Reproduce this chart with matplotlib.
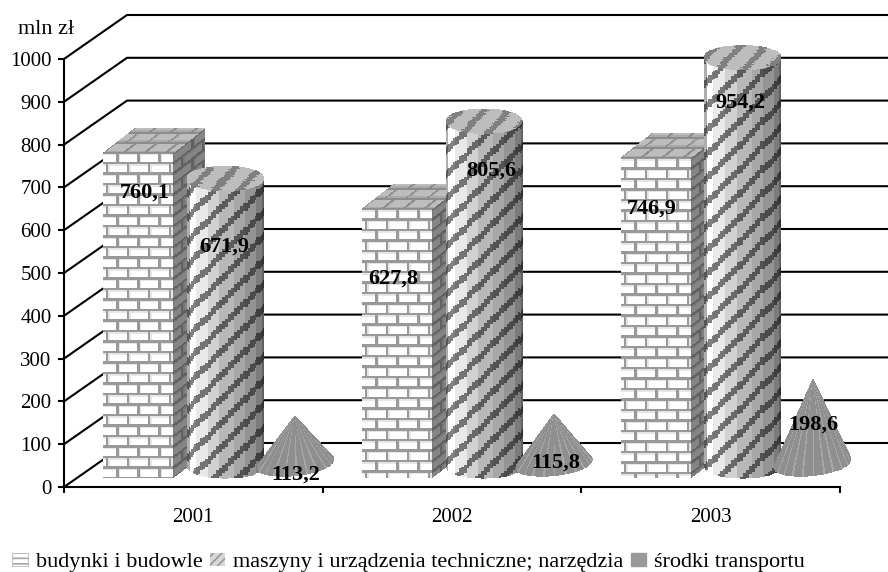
import numpy as np
import matplotlib
matplotlib.use("Agg")
import matplotlib.pyplot as plt
from matplotlib.patches import Patch

plt.rcParams['font.family'] = ['Liberation Serif', 'DejaVu Sans']
plt.rcParams['hatch.linewidth'] = 1.2

# dane
lata = ['2001', '2002', '2003']
budynki = [760.1, 627.8, 746.9]
maszyny = [671.9, 805.6, 954.2]
transport = [113.2, 115.8, 198.6]
y_ticks = [0, 100, 200, 300, 400, 500, 600, 700, 800, 900, 1000]
legenda = ['budynki i budowle', 'maszyny i urządzenia techniczne; narzędzia', 'środki transportu']

# skala: piksele na jednostke danych, lewy dolny rog ukladu
PX_X = 258.67
PX_Y = 0.428
X0, Y0 = 64, 487
W, H = 888, 572


def xd(px):
    return px / PX_X


def yd(px):
    return px / PX_Y


fig = plt.figure(figsize=(W / 100, H / 100), dpi=100)
ax = fig.add_axes([0, 0, 1, 1])
ax.set_xlim(-X0 / PX_X, (W - X0) / PX_X)
ax.set_ylim(-(H - Y0) / PX_Y, Y0 / PX_Y)
ax.patch.set_visible(False)

# sciana tylna - linie siatki
DEPTH_X, DEPTH_Y = 63, 44
for v in y_ticks:
    ax.plot([0, xd(DEPTH_X), xd(W)], [v, v + yd(DEPTH_Y), v + yd(DEPTH_Y)],
            color='k', lw=1.5, zorder=1, solid_joinstyle='miter')


def brick_tex(u, v, jasny, ciemny):
    # wzor cegiel, u i v w pikselach
    row = np.floor(v / 10.5)
    uu = (u + 10.5 * (row % 2)) % 21
    vv = v % 10.5
    out = np.full(u.shape, float(jasny))
    edge = (uu < 4) | (vv < 4)
    out[edge] = jasny * 0.9
    mortar = (uu < 2.5) | (vv < 2.5)
    out[mortar] = ciemny
    return out


def mesh(xx, yy, c, z):
    ax.pcolormesh(xx, yy, c, cmap='gray', vmin=0, vmax=1, shading='flat',
                  zorder=z, antialiased=False, linewidth=0, rasterized=True)


def draw_brick(cat, val, z):
    left = (cat + 0.5) * PX_X - 90
    w, lift, dx, dy = 70, 9, 32, 25
    h = val * PX_Y
    # przod
    u = np.arange(0, w + 1.0)
    v = np.arange(0, h + 1.0)
    v[-1] = h
    uu, vv = np.meshgrid(u, v)
    c = brick_tex(uu[:-1, :-1] + 8, h - vv[:-1, :-1] + 1, 1.0, 0.6)
    mesh(xd(left + uu), yd(lift + vv), c, z)
    # bok
    t = np.linspace(0, 1, 33)
    tt, vv = np.meshgrid(t, v)
    c = brick_tex(tt[:-1, :-1] * 32 + 3, h - vv[:-1, :-1] + 1, 0.52, 0.38)
    mesh(xd(left + w + tt * dx), yd(lift + vv + tt * dy), c, z)
    # gora
    s = np.linspace(0, 1, 26)
    uu, ss = np.meshgrid(u, s)
    c = brick_tex(uu[:-1, :-1] + 2, ss[:-1, :-1] * 26 + 2, 0.74, 0.55)
    mesh(xd(left + uu + ss * dx), yd(lift + h + ss * dy), c, z)


def stripes(x, y):
    # ukosne pasy, schodkowe
    return ((np.floor(y / 2) * 2 - np.floor(x / 2) * 2) % 24) < 8


def draw_cyl(cat, val, z):
    cx = (cat + 0.5) * PX_X + 32
    r, b, lift = 38.5, 12.5, 21
    h = val * PX_Y
    n = 41
    th = np.linspace(np.pi, 2 * np.pi, n)
    v = np.arange(0, h + 2.0, 2.0)
    v[-1] = h
    tt, vv = np.meshgrid(th, v)
    xx = cx + r * np.cos(tt)
    yy = lift + vv + b * np.sin(tt)
    # cieniowanie pasami wzdluz obwodu
    f = (th[:-1] - np.pi) / np.pi
    base = np.interp(np.floor(f * 9) / 8, [0, 0.12, 0.3, 0.5, 0.65, 0.8, 1], [0.68, 1.0, 0.88, 0.72, 0.64, 0.55, 0.38])
    c = np.tile(base, (len(v) - 1, 1))
    xc, yc = xx[:-1, :-1], yy[:-1, :-1]
    c = np.where(stripes(xc, yc), 0.5 * c, c)
    mesh(xd(xx), yd(yy), c, z)
    # pokrywa
    rr = np.linspace(0, 1, 15)
    tht = np.linspace(0, 2 * np.pi, 73)
    rg, tg = np.meshgrid(rr, tht)
    xx = cx + r * rg * np.cos(tg)
    yy = lift + h + b * rg * np.sin(tg)
    xc, yc = xx[:-1, :-1], yy[:-1, :-1]
    c = np.where(stripes(xc, yc), 0.5, 0.74)
    mesh(xd(xx), yd(yy), c, z + 0.1)


def draw_cone(cat, val, z):
    cx = (cat + 0.5) * PX_X + 102
    r, b, lift, tilt = 38.5, 12, 23, 4
    h = val * PX_Y
    phi = np.arcsin(min(b / h, 0.9))
    th = np.linspace(np.pi - phi, 2 * np.pi + phi, 61)
    t = np.linspace(0, 1, 2)
    tt, ss = np.meshgrid(th, t)
    xx = cx + ss * r * np.cos(tt)
    yy = lift + h + ss * (-h + b * np.sin(tt) + tilt * np.cos(tt))
    c = np.full((1, len(th) - 1), 0.56)
    c[0, ::5] = 0.66
    mesh(xd(xx), yd(yy), c, z)


for i in range(3):
    draw_brick(i, budynki[i], 3 + i)
    draw_cyl(i, maszyny[i], 3.3 + i)
    draw_cone(i, transport[i], 3.6 + i)

# osie
for s in ['top', 'right']:
    ax.spines[s].set_visible(False)
ax.spines['left'].set_position(('data', 0))
ax.spines['bottom'].set_position(('data', 0))
ax.spines['left'].set_bounds(0, 1000)
ax.spines['bottom'].set_bounds(0, 3)
ax.spines['left'].set_linewidth(1.5)
ax.spines['bottom'].set_linewidth(1.5)
ax.set_yticks(y_ticks)
ax.set_yticklabels([str(v) for v in y_ticks], fontsize=15)
ax.set_xticks([0, 1, 2, 3])
ax.set_xticklabels([])
ax.set_xticks([0.5, 1.5, 2.5], minor=True)
ax.set_xticklabels(lata, minor=True, fontsize=15)
ax.tick_params(axis='y', length=4, width=1.5, pad=5)
ax.tick_params(axis='x', which='major', length=4, width=1.5)
ax.tick_params(axis='x', which='minor', length=0, pad=15)
ax.text(xd(18 - X0), yd(Y0 - 30), 'mln zł', fontsize=16, va='center', ha='left')

# etykiety wartosci (srodek w pikselach obrazka)
pos_etykiet = [(145, 193), (224, 247), (296, 475), (393, 279), (491, 171), (556, 463),
               (652, 209), (740, 103), (813, 425)]
wartosci = [x for i in range(3) for x in (budynki[i], maszyny[i], transport[i])]
for (px, py), val in zip(pos_etykiet, wartosci):
    ax.text(xd(px - X0), yd(Y0 - py), f'{val:.1f}'.replace('.', ','), fontsize=16, fontweight='bold',
            ha='center', va='center', zorder=10)

# legenda
uchwyty = [Patch(facecolor='white', edgecolor='0.65', hatch='---', lw=0.5),
           Patch(facecolor='0.85', edgecolor='0.6', hatch='////', lw=0),
           Patch(facecolor='0.6', edgecolor='0.6')]
ax.legend(uchwyty, legenda, ncol=3, frameon=False, fontsize=16, loc='lower left',
          bbox_to_anchor=(0.009, -0.008), handlelength=0.68, handleheight=0.55, handletextpad=0.36,
          columnspacing=0.35, borderpad=0.2, borderaxespad=0)

fig.savefig('out.png', dpi=100)
